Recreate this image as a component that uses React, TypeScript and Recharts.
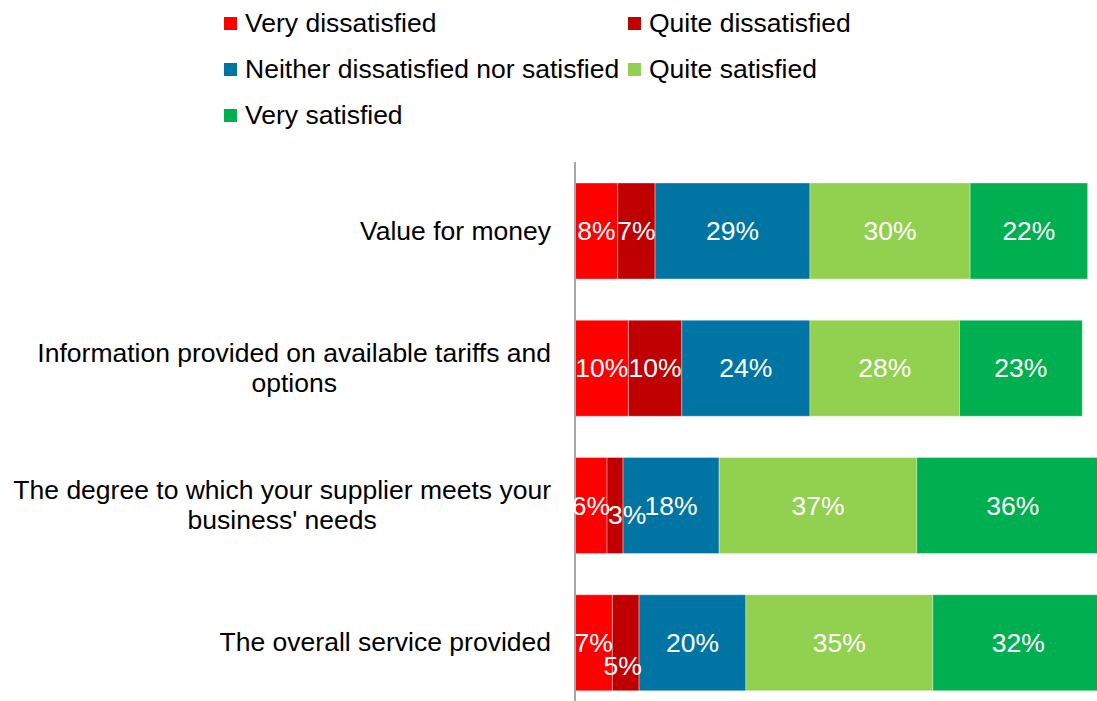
import React from "react"
import { BarChart, Bar, XAxis, YAxis, Legend, LabelList } from "recharts"

const categories = [
  "Value for money",
  "Information provided on available tariffs and options",
  "The degree to which your supplier meets your business' needs",
  "The overall service provided",
]

const seriesNames = [
  "Very dissatisfied",
  "Quite dissatisfied",
  "Neither dissatisfied nor satisfied",
  "Quite satisfied",
  "Very satisfied",
]

const veryDissatisfied = [8, 10, 6, 7]
const quiteDissatisfied = [7, 10, 3, 5]
const neither = [29, 24, 18, 20]
const quiteSatisfied = [30, 28, 37, 35]
const verySatisfied = [22, 23, 36, 32]

const seriesColors = ["#FF0000", "#C00000", "#0075A3", "#92D050", "#00B050"]

// small labels that were pushed aside in the original to avoid overlap
const labelNudge: Record<string, [number, number]> = {
  "2-1": [12, 9],
  "3-1": [-3, 23],
}

const FONT = "'Liberation Sans', Arial, sans-serif"
const FS = 26.5

const seriesValues = [veryDissatisfied, quiteDissatisfied, neither, quiteSatisfied, verySatisfied]

const data = categories.map((name, i) => {
  const row: Record<string, string | number> = { name }
  seriesNames.forEach((s, j) => {
    row[s] = seriesValues[j][i]
  })
  return row
})

let ctx: CanvasRenderingContext2D | null = null
function measure(text: string) {
  if (!ctx) {
    ctx = document.createElement("canvas").getContext("2d")
    if (ctx) ctx.font = `${FS}px ${FONT}`
  }
  return ctx ? ctx.measureText(text).width : text.length * FS * 0.5
}

function wrap(text: string, maxWidth: number) {
  const words = text.split(" ")
  const lines: string[] = []
  let cur = ""
  words.forEach((w) => {
    const next = cur ? cur + " " + w : w
    if (cur && measure(next) > maxWidth) {
      lines.push(cur)
      cur = w
    } else {
      cur = next
    }
  })
  if (cur) lines.push(cur)
  return lines
}

function CategoryTick(props: any) {
  const { x, y, payload } = props
  const lines = wrap(payload.value, 548)
  const blockW = Math.max(...lines.map(measure))
  const cx = x - blockW / 2
  const lh = 30
  const top = y - ((lines.length - 1) * lh) / 2
  return (
    <g>
      {lines.map((l, i) => (
        <text
          key={i}
          x={cx}
          y={top + i * lh}
          textAnchor="middle"
          dominantBaseline="central"
          fontFamily={FONT}
          fontSize={FS}
          fill="#000"
        >
          {l}
        </text>
      ))}
    </g>
  )
}

function makeLabel(seriesIdx: number) {
  return (props: any) => {
    const { x, y, width, height, value, index } = props
    const [dx, dy] = labelNudge[`${index}-${seriesIdx}`] || [0, 0]
    return (
      <text
        x={x + width / 2 + dx}
        y={y + height / 2 + dy}
        textAnchor="middle"
        dominantBaseline="central"
        fontFamily={FONT}
        fontSize={FS}
        fill="#FFFFFF"
      >
        {`${value}%`}
      </text>
    )
  }
}

function LegendContent(props: any) {
  const payload = [...(props.payload || [])].sort(
    (a: any, b: any) => seriesNames.indexOf(a.value) - seriesNames.indexOf(b.value)
  )
  return (
    <div
      style={{
        display: "grid",
        gridTemplateColumns: "404px 404px",
        gridAutoRows: "46px",
        paddingLeft: 224,
        height: 162,
        boxSizing: "border-box",
        fontFamily: FONT,
      }}
    >
      {payload.map((p: any) => (
        <div key={p.value} style={{ display: "flex", alignItems: "center", whiteSpace: "nowrap" }}>
          <span style={{ width: 13, height: 13, background: p.color, marginRight: 8, flex: "none" }} />
          <span style={{ fontSize: FS, color: "#000" }}>{p.value}</span>
        </div>
      ))}
    </div>
  )
}

export default function App() {
  return (
    <div
      style={{
        position: "fixed",
        left: 0,
        top: 0,
        width: 1097,
        height: 701,
        overflow: "hidden",
        background: "#fff",
        fontFamily: FONT,
      }}
    >
      <BarChart
        width={1110}
        height={711}
        data={data}
        layout="vertical"
        margin={{ top: 0, right: 1, bottom: 0, left: 0 }}
        barSize={96}
      >
        <Legend
          verticalAlign="top"
          align="left"
          content={<LegendContent />}
          wrapperStyle={{ top: 0, left: 0, width: 1097, height: 162 }}
        />
        <XAxis type="number" domain={[0, 100]} hide />
        <YAxis
          type="category"
          dataKey="name"
          width={575}
          axisLine={{ stroke: "#A6A6A6", strokeWidth: 2 }}
          tickLine={false}
          tickSize={6}
          tickMargin={18}
          tick={<CategoryTick />}
          interval={0}
        />
        {seriesNames.map((s, j) => (
          <Bar
            key={s}
            dataKey={s}
            stackId="a"
            fill={seriesColors[j]}
            stroke="rgba(255,255,255,0.35)"
            strokeWidth={1}
            isAnimationActive={false}
          >
            <LabelList dataKey={s} content={makeLabel(j)} />
          </Bar>
        ))}
      </BarChart>
    </div>
  )
}
